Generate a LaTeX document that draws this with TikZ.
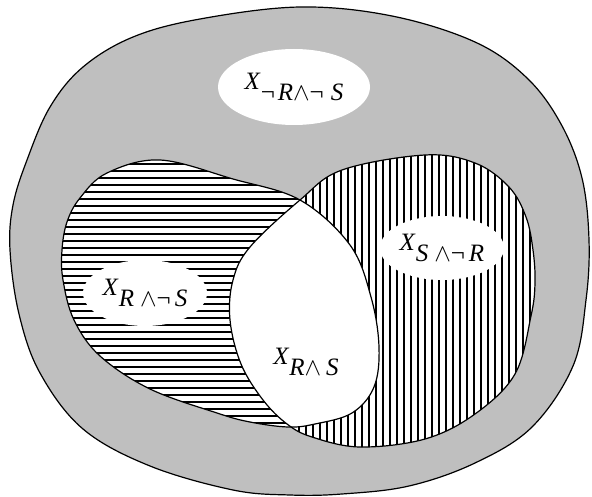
\documentclass[tikz,border=0pt]{standalone}
\usepackage{fontspec}
\setmainfont{Liberation Serif}
\usetikzlibrary{shapes.geometric}
\definecolor{bgray}{RGB}{191,191,191}
\newcommand{\lowsub}[1]{\raisebox{-11pt}{#1}}
\begin{document}
\begin{tikzpicture}[x=1pt,y=-1pt,
  outline/.style={draw=black,line width=1.2pt},
  hatchline/.style={line width=1.5pt,black},
  lab/.style={ellipse,fill=white,draw=none,inner sep=0pt,font=\fontsize{25}{28}\selectfont},
  plainlab/.style={inner sep=0pt,font=\fontsize{25}{28}\selectfont}]
\useasboundingbox (0,0) rectangle (592,497);
\def\outerpath{plot[smooth cycle,tension=0.6] coordinates {(300,7) (392,16) (475,42) (527,78) (561,124) (582,178) (589,240) (586,300) (573,366) (532,427) (475,463) (409,486) (342,494) (290,495) (233,490) (150,466) (83,429) (40,373) (19,314) (10,250) (13,205) (27,160) (50,107) (83,67) (133,37) (200,19)}}
\def\Rpath{plot[smooth cycle,tension=0.6] coordinates {(160,160) (233,179) (300,200) (350,245) (371,297) (379,347) (374,387) (352,413) (315,424) (288,427) (250,422) (217,413) (150,389) (100,356) (74,320) (63,280) (62,250) (67,222) (80,198) (107,173)}}
\def\Spath{plot[smooth cycle,tension=0.6] coordinates {(300,200) (342,170) (425,155) (475,163) (509,187) (526,217) (533,250) (535,283) (531,316) (515,374) (475,414) (425,439) (360,447) (312,437) (287,424) (263,400) (241,364) (230,320) (233,280) (250,247)}}
% outer region
\fill[bgray] \outerpath;
\draw[outline] \outerpath;
% white base of R and S
\fill[white] \Rpath;
\fill[white] \Spath;
% horizontal hatching in R
\begin{scope}
  \clip \Rpath;
  \foreach \yy in {157,164,...,440} \draw[hatchline] (50,\yy) -- (400,\yy);
\end{scope}
% vertical hatching in S
\begin{scope}
  \clip \Spath;
  \foreach \xx in {222,229,...,545} \draw[hatchline] (\xx,140) -- (\xx,460);
\end{scope}
% intersection white
\begin{scope}
  \clip \Rpath;
  \fill[white] \Spath;
\end{scope}
\draw[outline] \Rpath;
\draw[outline] \Spath;
% labels
\node[lab,minimum width=152pt,minimum height=76pt] (nrns) at (294,87)
  {\textit{X}\lowsub{¬\hspace{3pt}\textit{R}$\wedge$¬\hspace{7pt}\textit{S}}};
\node[lab,minimum width=124pt,minimum height=66pt] (rns) at (145,293)
  {\textit{X}\lowsub{\textit{R}\hspace{6pt}$\wedge$¬\hspace{4pt}\textit{S}}};
\node[lab,minimum width=124pt,minimum height=64pt] (snr) at (442,248)
  {\textit{X}\lowsub{\textit{S}\hspace{6pt}$\wedge$¬\hspace{4pt}\textit{R}}};
\node[plainlab] (rs) at (306,362)
  {\textit{X}\lowsub{\textit{R}$\wedge$\hspace{5pt}\textit{S}}};
\end{tikzpicture}
\end{document}
